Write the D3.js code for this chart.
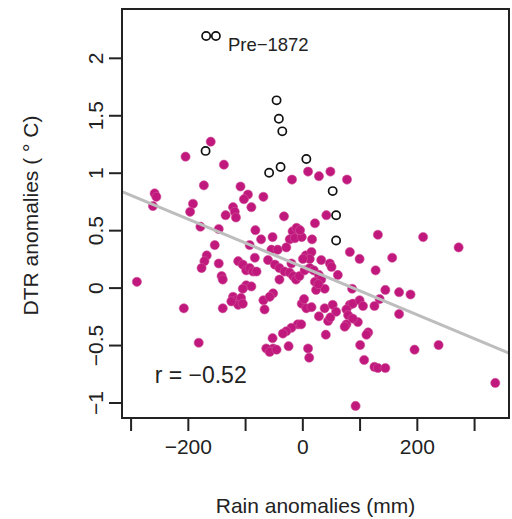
<!DOCTYPE html>
<html>
<head>
<meta charset="utf-8">
<script src="https://cdn.jsdelivr.net/npm/d3@7"></script>
<style>
  body { margin: 0; background: #fff; }
  text { font-family: "Liberation Sans", Arial, sans-serif; fill: #222; }
</style>
</head>
<body>
<svg></svg>
<script>
// rain anomaly (mm) / DTR anomaly (deg C), post-1872 years
const rainPost = [
  -160, -204, -137, -172, -258, -255, -261, -191, -196, -178, -146, -153, -167, -171, -176, -146,
  -141, -139, -289, -207, -139, -181, -134, -108, -95, -102, -89, -68, -121, -118, -116, -32,
  -18, -82, -72, -52, -92, -54, -43, -17, -10, -22, -13, -1, -4, -28, -112, -104, -98, -92,
  -83, -86, -80, -98, -89, -104, -60, -48, -40, -31, -22, -16, -11, -5, -19, -40, -121, -115,
  -107, -112, -104, -124, -68, -66, -51, -57, -8, -19, -28, -34, -52, -51, -63, -57, -45, -24,
  10, 29, 49, 78, 22, 42, 17, 6, 16, 13, 1, 33, 48, 51, 62, 4, 13, 20, 29, 22, 33, 39, 24, 28,
  -1, 7, 16, 3, -2, 29, 45, 39, 53, 59, 41, 49, 10, 12,
  83, 100, 132, 211, 273, 157, 128, 87, 145, 169, 189, 135, 83, 88, 100, 106, 126, 77, 80, 77,
  74, 97, 88, 115, 112, 169, 101, 196, 238, 108, 126, 132, 145, 337, 93
];
const dtrPost = [
  1.27, 1.14, 1.07, 0.89, 0.82, 0.79, 0.71, 0.73, 0.66, 0.53, 0.51, 0.37, 0.28, 0.23, 0.17, 0.21,
  0.10, 0.07, 0.05, -0.18, -0.18, -0.48, 0.63, 0.88, 0.81, 0.77, 0.70, 0.79, 0.70, 0.66, 0.61, 0.62,
  0.94, 0.50, 0.42, 0.44, 0.37, 0.33, 0.33, 0.49, 0.52, 0.42, 0.43, 0.44, 0.50, 0.35, 0.23, 0.20, 0.15, 0.17,
  0.26, 0.14, 0.14, 0.02, 0.01, -0.01, 0.24, 0.20, 0.17, 0.14, 0.13, 0.10, 0.07, 0.10, 0.21, 0.07, -0.08, -0.11,
  -0.09, -0.15, -0.14, -0.12, -0.11, -0.19, -0.05, -0.08, -0.32, -0.35, -0.38, -0.40, -0.44, -0.53, -0.53, -0.56, -0.54, -0.51,
  1.01, 0.97, 1.01, 0.94, 0.56, 0.63, 0.42, 0.28, 0.31, 0.25, 0.25, 0.24, 0.21, 0.18, 0.11, 0.15, 0.17, 0.15, 0.11, 0.05, 0.07, -0.01, -0.02, 0.03,
  -0.14, -0.18, -0.17, -0.10, -0.32, -0.25, -0.29, -0.18, -0.15, -0.21, -0.41, -0.26, -0.53, -0.61,
  0.31, 0.25, 0.46, 0.44, 0.35, 0.26, 0.15, -0.01, -0.02, -0.04, -0.06, -0.10, -0.15, -0.14, -0.11, -0.16, -0.16, -0.19, -0.24, -0.32,
  -0.34, -0.30, -0.27, -0.39, -0.41, -0.23, -0.50, -0.54, -0.50, -0.63, -0.69, -0.70, -0.70, -0.83, -1.03
];

// pre-1872 years (open circles)
const rainPre = [-168, -151, -45, -41, -35, -169, -58, -38, 7, 53, 59, 59];
const dtrPre = [2.19, 2.19, 1.63, 1.47, 1.36, 1.19, 1.00, 1.05, 1.12, 0.84, 0.63, 0.41];

// fitted line: intercept, slope
const fitLine = [0.181, -0.00208];
const corrLabel = 'r = \u22120.52';

const xTicks = [-300, -200, -100, 0, 100, 200, 300];
const xTickLabels = [-200, 0, 200];
const yTicks = [-1, -0.5, 0, 0.5, 1, 1.5, 2];

const width = 512, height = 519;
const margin = {top: 9, right: 3, bottom: 101, left: 122};
const innerW = width - margin.left - margin.right;
const innerH = height - margin.top - margin.bottom;

const svg = d3.select('svg')
  .attr('width', width)
  .attr('height', height);

const xScale = d3.scaleLinear().domain([-315, 361]).range([0, innerW]);
const yScale = d3.scaleLinear().domain([-1.135, 2.425]).range([innerH, 0]);

const g = svg.append('g')
  .attr('transform', `translate(${margin.left},${margin.top})`);

const minus = s => String(s).replace('-', '\u2212');

// x axis
const xAxis = g.append('g')
  .attr('transform', `translate(0,${innerH})`)
  .call(d3.axisBottom(xScale)
    .tickValues(xTicks)
    .tickSize(13)
    .tickFormat(d => xTickLabels.includes(d) ? minus(d) : ''));
xAxis.select('.domain').remove();
xAxis.selectAll('line').attr('stroke', '#222').attr('stroke-width', 2);
xAxis.selectAll('text')
  .attr('y', 36)
  .attr('dy', 0)
  .style('font-size', '21px')
  .style('font-family', '"Liberation Sans", Arial, sans-serif')
  .attr('fill', '#222');

// y axis, labels parallel to axis
const yAxis = g.append('g')
  .call(d3.axisLeft(yScale)
    .tickValues(yTicks)
    .tickSize(13)
    .tickFormat(d => minus(d)));
yAxis.select('.domain').remove();
yAxis.selectAll('line').attr('stroke', '#222').attr('stroke-width', 2);
yAxis.selectAll('text')
  .attr('x', 0)
  .attr('dy', 0)
  .attr('text-anchor', 'middle')
  .attr('transform', 'translate(-19,0) rotate(-90)')
  .style('font-size', '21px')
  .style('font-family', '"Liberation Sans", Arial, sans-serif')
  .attr('fill', '#222');

// points
const post = rainPost.map((r, i) => ({rain: r, dtr: dtrPost[i]}));
const pre = rainPre.map((r, i) => ({rain: r, dtr: dtrPre[i]}));

g.selectAll('.post')
  .data(post)
  .enter().append('circle')
    .attr('class', 'post')
    .attr('cx', d => xScale(d.rain))
    .attr('cy', d => yScale(d.dtr))
    .attr('r', 4.6)
    .attr('fill', '#c0187c')
    .attr('stroke', '#d0559c')
    .attr('stroke-width', 0.6);

g.selectAll('.pre')
  .data(pre)
  .enter().append('circle')
    .attr('class', 'pre')
    .attr('cx', d => xScale(d.rain))
    .attr('cy', d => yScale(d.dtr))
    .attr('r', 4.1)
    .attr('fill', 'none')
    .attr('stroke', '#111')
    .attr('stroke-width', 1.7);

// regression line
const fit = x => fitLine[0] + fitLine[1] * x;
const lineGen = d3.line()
  .x(d => xScale(d))
  .y(d => yScale(fit(d)));
g.append('path')
  .attr('d', lineGen(xScale.domain()))
  .attr('fill', 'none')
  .attr('stroke', '#bdbdbd')
  .attr('stroke-width', 3);

// box
g.append('rect')
  .attr('width', innerW)
  .attr('height', innerH)
  .attr('fill', 'none')
  .attr('stroke', '#222')
  .attr('stroke-width', 2);

// annotations
g.append('text')
  .attr('x', xScale(-130))
  .attr('y', yScale(2.06))
  .style('font-size', '18.5px')
  .text('Pre\u22121872');

g.append('text')
  .attr('x', xScale(-258))
  .attr('y', yScale(-0.83))
  .style('font-size', '23px')
  .text(corrLabel);

// axis titles
svg.append('text')
  .attr('x', margin.left + innerW / 2)
  .attr('y', 513)
  .attr('text-anchor', 'middle')
  .style('font-size', '21px')
  .text('Rain anomalies (mm)');

svg.append('text')
  .attr('transform', `translate(38,${margin.top + innerH / 2 + 2}) rotate(-90)`)
  .attr('text-anchor', 'middle')
  .style('font-size', '21px')
  .text('DTR anomalies ( \u00B0 C)');
</script>
</body>
</html>
